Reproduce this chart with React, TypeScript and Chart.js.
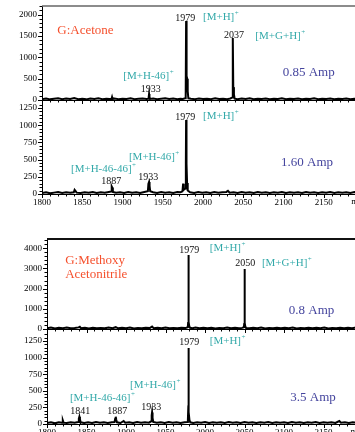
import React, { useEffect, useRef } from "react";
import { Chart, registerables } from "chart.js";

Chart.register(...registerables);

type Pair = [number, number];
type Note = { text: string; mz: number; y: number; kind: "title" | "mass" | "ion" | "amp" };

// m/z values that carry a tick label
const mzTickLabels = [1800, 1850, 1900, 1950, 2000, 2050, 2100, 2150];

// G:Acetone, 0.85 Amp  [m/z, intensity]
const acetone085: Pair[] = [
  [1800, 20], [1805, 35], [1810, 15], [1815, 30], [1820, 40], [1825, 20], [1830, 35], [1835, 25],
  [1840, 45], [1845, 20], [1850, 30], [1855, 15], [1860, 35], [1865, 25], [1870, 40], [1875, 20],
  [1880, 30], [1884, 25], [1886.4, 30], [1887, 70], [1887.6, 25], [1890, 35], [1895, 20], [1900, 30],
  [1905, 25], [1910, 40], [1915, 20], [1920, 30], [1925, 35], [1930, 25], [1932.3, 30], [1933, 140],
  [1933.5, 60], [1934.2, 25], [1938, 35], [1943, 20], [1948, 30], [1953, 40], [1958, 25], [1963, 35],
  [1968, 20], [1972, 30], [1975, 25], [1977.8, 40], [1978.5, 100], [1979, 1850], [1979.6, 560],
  [1980.3, 500], [1981, 200], [1981.8, 40], [1985, 30], [1990, 20], [1995, 35], [2000, 25], [2005, 30],
  [2010, 20], [2015, 40], [2020, 25], [2025, 30], [2030, 20], [2034, 35], [2036.6, 60], [2037, 1450],
  [2037.6, 300], [2038.4, 130], [2039.3, 30], [2043, 20], [2048, 35], [2053, 25], [2058, 40], [2063, 20],
  [2068, 30], [2073, 25], [2078, 35], [2083, 20], [2088, 30], [2093, 25], [2098, 40], [2103, 20],
  [2108, 30], [2113, 25], [2118, 35], [2123, 20], [2128, 30], [2133, 25], [2138, 40], [2143, 20],
  [2148, 30], [2153, 25], [2158, 35], [2163, 20], [2168, 30], [2173, 25], [2178, 35], [2183, 20],
  [2188, 30], [2193, 25], [2198, 35], [2204, 20],
];

// G:Acetone, 1.60 Amp
const acetone160: Pair[] = [
  [1800, 15], [1805, 25], [1810, 10], [1815, 20], [1820, 30], [1825, 15], [1830, 25], [1835, 20],
  [1839.5, 25], [1840.5, 60], [1841.5, 45], [1843, 20], [1848, 15], [1853, 25], [1858, 20], [1863, 30],
  [1868, 15], [1873, 25], [1878, 20], [1883, 30], [1885.8, 35], [1886.6, 110], [1887.2, 95], [1888, 30],
  [1892, 20], [1897, 25], [1902, 15], [1907, 30], [1912, 20], [1917, 25], [1922, 15], [1927, 30],
  [1931.5, 40], [1932.2, 150], [1933, 175], [1933.6, 120], [1934.4, 40], [1938, 25], [1943, 15],
  [1948, 30], [1953, 20], [1958, 25], [1963, 15], [1968, 30], [1972, 25], [1974.5, 40], [1975.3, 150],
  [1976, 60], [1978.3, 80], [1978.7, 450], [1979, 1077], [1979.5, 440], [1980.2, 160], [1981, 50],
  [1984, 25], [1989, 15], [1994, 30], [1999, 20], [2004, 25], [2009, 15], [2014, 30], [2019, 20],
  [2024, 25], [2029, 30], [2031, 45], [2033, 20], [2038, 25], [2043, 15], [2048, 30], [2053, 20],
  [2058, 25], [2063, 15], [2068, 30], [2073, 20], [2078, 25], [2083, 15], [2088, 25], [2093, 20],
  [2098, 30], [2103, 15], [2108, 25], [2113, 20], [2118, 25], [2123, 15], [2128, 30], [2133, 20],
  [2138, 25], [2143, 15], [2148, 25], [2153, 20], [2158, 30], [2163, 15], [2168, 25], [2173, 20],
  [2178, 25], [2183, 15], [2188, 30], [2193, 20], [2198, 25], [2204, 15],
];

// G:Methoxy Acetonitrile, 0.8 Amp
const methoxy08: Pair[] = [
  [1800, 40], [1805, 70], [1810, 30], [1815, 60], [1820, 40], [1825, 75], [1830, 35], [1835, 55],
  [1840, 80], [1841.5, 110], [1843, 40], [1848, 60], [1853, 30], [1858, 65], [1863, 40], [1868, 55],
  [1873, 35], [1878, 70], [1883, 40], [1887, 90], [1890, 35], [1895, 60], [1900, 40], [1905, 70],
  [1910, 30], [1915, 55], [1920, 40], [1925, 65], [1930, 45], [1933, 120], [1935, 40], [1940, 60],
  [1945, 35], [1950, 70], [1955, 40], [1960, 55], [1965, 35], [1970, 65], [1975, 45], [1978.2, 90],
  [1978.6, 300], [1979, 3663], [1979.4, 350], [1980, 150], [1981, 60], [1984, 40], [1988, 70],
  [1993, 35], [1998, 60], [2003, 40], [2008, 65], [2013, 30], [2018, 55], [2023, 40], [2028, 70],
  [2033, 35], [2038, 60], [2043, 40], [2047, 55], [2049.2, 90], [2049.6, 250], [2050, 2970],
  [2050.4, 300], [2051, 120], [2052, 50], [2056, 35], [2061, 60], [2066, 40], [2071, 70], [2076, 30],
  [2081, 55], [2086, 40], [2091, 65], [2096, 35], [2101, 60], [2106, 40], [2111, 70], [2116, 30],
  [2121, 55], [2126, 40], [2131, 65], [2136, 35], [2141, 60], [2146, 40], [2151, 70], [2156, 30],
  [2161, 55], [2166, 40], [2171, 65], [2176, 35], [2181, 60], [2186, 40], [2191, 70], [2196, 30],
  [2201, 55], [2205, 40],
];

// G:Methoxy Acetonitrile, 3.5 Amp
const methoxy35: Pair[] = [
  [1800, 15], [1805, 25], [1810, 10], [1815, 25], [1819, 20], [1820, 55], [1821, 20], [1825, 15],
  [1830, 25], [1835, 20], [1839.5, 30], [1840.3, 80], [1841, 110], [1841.7, 70], [1842.6, 25],
  [1847, 15], [1852, 25], [1857, 15], [1862, 30], [1867, 20], [1872, 25], [1877, 15], [1882, 25],
  [1885.5, 30], [1886.3, 80], [1887, 110], [1887.7, 60], [1888.6, 25], [1893, 15], [1897, 45],
  [1899, 20], [1904, 25], [1909, 15], [1914, 30], [1919, 20], [1924, 25], [1929, 20], [1931.8, 40],
  [1932.5, 130], [1933, 175], [1933.6, 90], [1934.5, 30], [1939, 20], [1944, 25], [1949, 15],
  [1954, 30], [1959, 20], [1964, 25], [1969, 15], [1974, 25], [1977.5, 30], [1978.3, 60],
  [1978.7, 200], [1979, 1145], [1979.5, 180], [1980.3, 60], [1981.3, 25], [1985, 15], [1990, 25],
  [1995, 20], [2000, 30], [2005, 15], [2010, 25], [2015, 20], [2020, 25], [2025, 15], [2030, 30],
  [2035, 20], [2040, 25], [2045, 15], [2050, 30], [2055, 20], [2060, 25], [2065, 15], [2070, 25],
  [2075, 20], [2080, 30], [2085, 15], [2090, 25], [2095, 20], [2100, 25], [2105, 15], [2110, 30],
  [2115, 20], [2120, 25], [2125, 15], [2130, 25], [2135, 20], [2140, 30], [2145, 15], [2150, 25],
  [2155, 20], [2160, 25], [2165, 15], [2170, 45], [2172, 20], [2177, 25], [2182, 15], [2187, 25],
  [2192, 20], [2197, 30], [2205, 15],
];

const acetone085Notes: Note[] = [
  { text: "G:Acetone", mz: 1819, y: 1615, kind: "title" },
  { text: "[M+H-46]", mz: 1901, y: 562, kind: "ion" },
  { text: "1933", mz: 1935, y: 257, kind: "mass" },
  { text: "1979", mz: 1978, y: 1919, kind: "mass" },
  { text: "[M+H]", mz: 2000, y: 1942, kind: "ion" },
  { text: "2037", mz: 2038.5, y: 1521, kind: "mass" },
  { text: "[M+G+H]", mz: 2065, y: 1498, kind: "ion" },
  { text: "0.85 Amp", mz: 2099, y: 632, kind: "amp" },
];

const acetone160Notes: Note[] = [
  { text: "1979", mz: 1978, y: 1120, kind: "mass" },
  { text: "[M+H]", mz: 2000, y: 1135, kind: "ion" },
  { text: "[M+H-46]", mz: 1908, y: 540, kind: "ion" },
  { text: "[M+H-46-46]", mz: 1836, y: 367, kind: "ion" },
  { text: "1887", mz: 1886, y: 178, kind: "mass" },
  { text: "1933", mz: 1932, y: 236, kind: "mass" },
  { text: "1.60 Amp", mz: 2097, y: 454, kind: "amp" },
];

const methoxy08Notes: Note[] = [
  { text: "G:Methoxy", mz: 1823, y: 3366, kind: "title" },
  { text: "Acetonitrile", mz: 1823, y: 2673, kind: "title" },
  { text: "1979", mz: 1980, y: 3911, kind: "mass" },
  { text: "[M+H]", mz: 2006, y: 4010, kind: "ion" },
  { text: "2050", mz: 2051, y: 3267, kind: "mass" },
  { text: "[M+G+H]", mz: 2072, y: 3267, kind: "ion" },
  { text: "0.8 Amp", mz: 2106, y: 891, kind: "amp" },
];

const methoxy35Notes: Note[] = [
  { text: "1979", mz: 1980, y: 1235, kind: "mass" },
  { text: "[M+H]", mz: 2006, y: 1250, kind: "ion" },
  { text: "[M+H-46]", mz: 1905, y: 587, kind: "ion" },
  { text: "[M+H-46-46]", mz: 1829, y: 392, kind: "ion" },
  { text: "1841", mz: 1842, y: 196, kind: "mass" },
  { text: "1887", mz: 1889, y: 196, kind: "mass" },
  { text: "1933", mz: 1932, y: 256, kind: "mass" },
  { text: "3.5 Amp", mz: 2108, y: 392, kind: "amp" },
];

const FONT = '"Liberation Serif", "DejaVu Serif", "Times New Roman", serif';

const noteStyles: Record<Note["kind"], { color: string; size: number; align: CanvasTextAlign; sup: boolean }> = {
  title: { color: "#f5502d", size: 13, align: "left", sup: false },
  mass: { color: "#111111", size: 10, align: "center", sup: false },
  ion: { color: "#33a9a9", size: 11, align: "left", sup: true },
  amp: { color: "#45459e", size: 13, align: "left", sup: false },
};

type Panel = {
  id: string;
  data: Pair[];
  notes: Note[];
  top: number;
  height: number;
  padTop: number;
  yWidth: number;
  xHeight: number;
  xLabels: boolean;
  xMax: number;
  yMax: number;
  yStep: number;
  yLabelStep: number;
  topBorder?: { color: string; width: number };
};

const CANVAS_W = 367;

const panels: Panel[] = [
  { id: "a", data: acetone085, notes: acetone085Notes, top: 0, height: 104, padTop: 6, yWidth: 42, xHeight: 4, xLabels: false, xMax: 2203.7, yMax: 2200, yStep: 100, yLabelStep: 500, topBorder: { color: "#666", width: 1.5 } },
  { id: "b", data: acetone160, notes: acetone160Notes, top: 100, height: 106, padTop: 3, yWidth: 42, xHeight: 12, xLabels: true, xMax: 2203.7, yMax: 1323, yStep: 50, yLabelStep: 250 },
  { id: "c", data: methoxy08, notes: methoxy08Notes, top: 233, height: 100, padTop: 6, yWidth: 47, xHeight: 4, xLabels: false, xMax: 2205, yMax: 4455, yStep: 200, yLabelStep: 1000, topBorder: { color: "#111", width: 2 } },
  { id: "d", data: methoxy35, notes: methoxy35Notes, top: 330, height: 106, padTop: 2, yWidth: 47, xHeight: 12, xLabels: true, xMax: 2205, yMax: 1385, yStep: 50, yLabelStep: 250 },
];

function SpectrumPanel({ panel }: { panel: Panel }) {
  const ref = useRef<HTMLCanvasElement>(null);

  useEffect(() => {
    const canvas = ref.current;
    if (!canvas) return;

    const decorations = {
      id: "decorations" + panel.id,
      afterDraw(chart: any) {
        const { ctx, chartArea } = chart;
        const xs = chart.scales.x;
        const ys = chart.scales.y;
        ctx.save();
        ctx.strokeStyle = "#000";
        ctx.lineWidth = 1;
        // x tick marks
        xs.ticks.forEach((t: any) => {
          const p = Math.round(xs.getPixelForValue(t.value)) + 0.5;
          const len = mzTickLabels.includes(t.value) ? 4 : 2.5;
          ctx.beginPath();
          ctx.moveTo(p, chartArea.bottom);
          ctx.lineTo(p, chartArea.bottom + len);
          ctx.stroke();
        });
        // y tick marks
        ys.ticks.forEach((t: any) => {
          const p = Math.round(ys.getPixelForValue(t.value)) + 0.5;
          const len = t.value % panel.yLabelStep === 0 ? 4 : 2.5;
          ctx.beginPath();
          ctx.moveTo(chartArea.left - len, p);
          ctx.lineTo(chartArea.left, p);
          ctx.stroke();
        });
        if (panel.topBorder) {
          ctx.strokeStyle = panel.topBorder.color;
          ctx.lineWidth = panel.topBorder.width;
          ctx.beginPath();
          ctx.moveTo(chartArea.left, chartArea.top);
          ctx.lineTo(chartArea.right, chartArea.top);
          ctx.stroke();
        }
        if (panel.xLabels) {
          ctx.fillStyle = "#000";
          ctx.font = `9px ${FONT}`;
          ctx.textAlign = "left";
          ctx.textBaseline = "middle";
          ctx.fillText("m/z", xs.getPixelForValue(2184), chartArea.bottom + 7.5);
        }
        // annotations
        panel.notes.forEach((n) => {
          const st = noteStyles[n.kind];
          const px = xs.getPixelForValue(n.mz);
          const py = ys.getPixelForValue(n.y);
          ctx.font = `${st.size}px ${FONT}`;
          ctx.fillStyle = st.color;
          ctx.textAlign = st.align;
          ctx.textBaseline = "middle";
          ctx.fillText(n.text, px, py);
          if (st.sup) {
            const w = ctx.measureText(n.text).width;
            const right = st.align === "center" ? px + w / 2 : px + w;
            ctx.font = `${Math.round(st.size * 0.65)}px ${FONT}`;
            ctx.textAlign = "left";
            ctx.fillText("+", right + 0.5, py - st.size * 0.35);
          }
        });
        ctx.restore();
      },
    };

    const chart = new Chart(canvas, {
      type: "line",
      data: {
        datasets: [
          {
            data: panel.data.map(([x, y]) => ({ x, y })),
            borderColor: "#000",
            borderWidth: 2,
            pointRadius: 0,
            tension: 0,
            fill: false,
          },
        ],
      },
      options: {
        responsive: false,
        animation: false,
        devicePixelRatio: 1,
        events: [],
        layout: { padding: { top: panel.padTop, left: 0, right: 0, bottom: 0 } },
        plugins: { legend: { display: false }, tooltip: { enabled: false } },
        scales: {
          x: {
            type: "linear",
            min: 1800,
            max: panel.xMax,
            ticks: {
              stepSize: 10,
              autoSkip: false,
              maxRotation: 0,
              minRotation: 0,
              includeBounds: false,
              maxTicksLimit: 1000,
              display: panel.xLabels,
              padding: 0,
              color: "#000",
              font: { family: FONT, size: 9 },
              callback: (v: any) => (mzTickLabels.includes(Number(v)) ? String(v) : ""),
            },
            grid: { display: true, drawOnChartArea: false, drawTicks: true, tickLength: 3, tickColor: "transparent" },
            border: { display: true, color: "#000", width: 1 },
            afterFit: (s: any) => {
              s.height = panel.xHeight;
              s.paddingLeft = 0;
              s.paddingRight = 0;
            },
          },
          y: {
            type: "linear",
            min: 0,
            max: panel.yMax,
            ticks: {
              stepSize: panel.yStep,
              autoSkip: false,
              includeBounds: false,
              maxTicksLimit: 1000,
              padding: 1,
              color: "#000",
              font: { family: FONT, size: 9 },
              callback: (v: any) => (Number(v) % panel.yLabelStep === 0 ? String(v) : ""),
            },
            grid: { display: true, drawOnChartArea: false, drawTicks: true, tickLength: 4, tickColor: "transparent" },
            border: { display: true, color: "#000", width: 1 },
            afterFit: (s: any) => {
              s.width = panel.yWidth;
              s.paddingTop = 0;
              s.paddingBottom = 0;
            },
          },
        },
      } as any,
      plugins: [decorations],
    });

    return () => chart.destroy();
  }, [panel]);

  return (
    <canvas
      ref={ref}
      width={CANVAS_W}
      height={panel.height}
      style={{ position: "absolute", left: 0, top: panel.top, width: CANVAS_W, height: panel.height }}
    />
  );
}

export default function App() {
  return (
    <div
      style={{
        position: "fixed",
        left: 0,
        top: 0,
        width: 355,
        height: 432,
        overflow: "hidden",
        background: "#fff",
      }}
    >
      {panels.map((p) => (
        <SpectrumPanel key={p.id} panel={p} />
      ))}
    </div>
  );
}
